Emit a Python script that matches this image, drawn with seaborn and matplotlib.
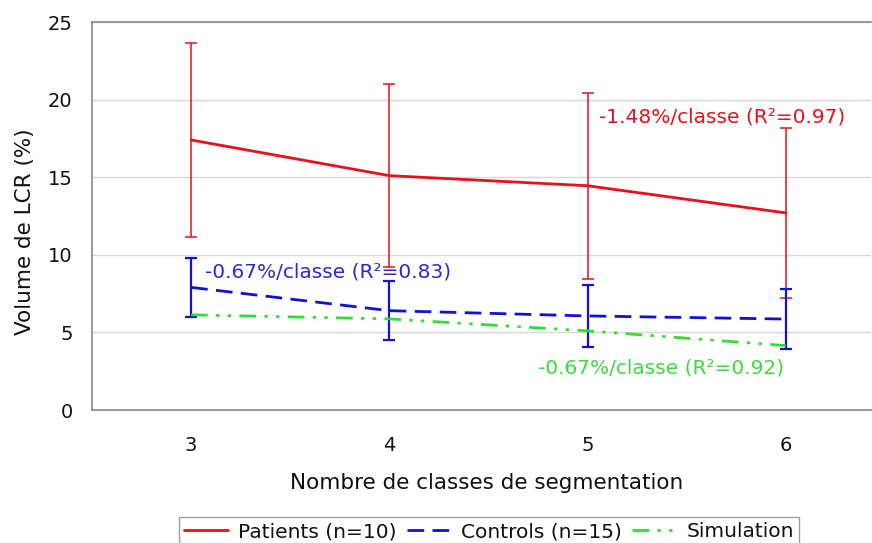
import numpy as np
import pandas as pd
import matplotlib
matplotlib.use("Agg")
import matplotlib.pyplot as plt
import seaborn as sns
from matplotlib.lines import Line2D

sns.set_theme(style="white")
plt.rcParams["font.family"] = ["DejaVu Sans"]
plt.rcParams["text.color"] = "#111111"
plt.rcParams["axes.labelcolor"] = "#111111"
plt.rcParams["xtick.labelcolor"] = "#111111"
plt.rcParams["ytick.labelcolor"] = "#111111"

classes = ["3", "4", "5", "6"]
patients = [17.4, 15.1, 14.45, 12.7]
patients_err = [6.25, 5.9, 6.0, 5.5]
controls = [7.9, 6.4, 6.06, 5.86]
controls_err = [1.9, 1.9, 1.97, 1.95]
simulation = [6.13, 5.87, 5.1, 4.15]

series_names = ["Patients (n=10)", "Controls (n=15)", "Simulation"]
red, blue, green = "#e8101c", "#1010d8", "#33dd33"

pos = np.arange(len(classes))
df = pd.DataFrame({
    "pos": np.tile(pos, 3),
    "value": patients + controls + simulation,
    "serie": np.repeat(series_names, len(classes)),
})

fig = plt.figure(figsize=(8.72, 5.43), dpi=100)
ax = fig.add_axes([92 / 872, 133 / 543, 779 / 872, 388 / 543])

ax.errorbar(pos, patients, yerr=patients_err, fmt="none", ecolor=red,
            elinewidth=1.1, capsize=4, capthick=1.1, zorder=3)
ax.errorbar(pos, controls, yerr=controls_err, fmt="none", ecolor=blue,
            elinewidth=1.6, capsize=4, capthick=1.6, zorder=3)

dash_styles = {series_names[0]: "", series_names[1]: (6, 3),
               series_names[2]: (6, 3, 1.2, 3, 1.2, 3)}
sns.lineplot(data=df, x="pos", y="value", hue="serie", style="serie",
             palette=[red, blue, green], dashes=dash_styles,
             linewidth=2, legend=False, ax=ax, zorder=4)

ax.set_xlim(-0.5, 3.43)
ax.set_ylim(0, 25)
ax.set_yticks(range(0, 26, 5))
ax.set_xticks(pos)
ax.set_xticklabels(classes)
ax.set_xticks([-0.5, 0.5, 1.5, 2.5], minor=True)
ax.tick_params(axis="x", which="major", length=0, pad=19, labelsize=14)
ax.tick_params(axis="x", which="minor", length=6, width=1, color="#777777", direction="out")
ax.tick_params(axis="y", length=6, width=1, color="#777777", direction="out", pad=8, labelsize=14)
ax.yaxis.grid(True, color="#d8d8d8", linewidth=1)
ax.set_axisbelow(True)
for side in ["left", "bottom", "top"]:
    ax.spines[side].set_color("#888888")
    ax.spines[side].set_linewidth(1.2)
ax.spines["right"].set_visible(False)

ax.set_xlabel("Nombre de classes de segmentation", fontsize=15.5)
ax.set_ylabel("Volume de LCR (%)", fontsize=15.5, va="center")
ax.xaxis.set_label_coords(0.507, -0.163)
ax.yaxis.set_label_coords(-0.086, 0.459)

ax.text(2.06, 18.9, "-1.48%/classe (R²=0.97)", color=red, fontsize=14.5,
        va="center", ha="left")
ax.text(0.07, 8.9, "-0.67%/classe (R²=0.83)", color="#2a2ad0", fontsize=14.5,
        va="center", ha="left")
ax.text(1.75, 2.7, "-0.67%/classe (R²=0.92)", color="#3fd83f", fontsize=14.5,
        va="center", ha="left")

handles = [
    Line2D([], [], color=red, lw=2),
    Line2D([], [], color=blue, lw=2, dashes=(6, 3)),
    Line2D([], [], color=green, lw=2, dashes=(6, 3, 1.2, 3, 1.2, 3)),
]
leg = fig.legend(handles, series_names, loc="upper center",
                 bbox_to_anchor=(489 / 872, 36 / 543), ncol=3, fontsize=14.5,
                 frameon=True, fancybox=False, handlelength=2.2,
                 columnspacing=0.5, handletextpad=0.5, borderpad=0.25)
leg.get_frame().set_edgecolor("#888888")
leg.get_frame().set_linewidth(1)

fig.savefig("out.png", dpi=100)
